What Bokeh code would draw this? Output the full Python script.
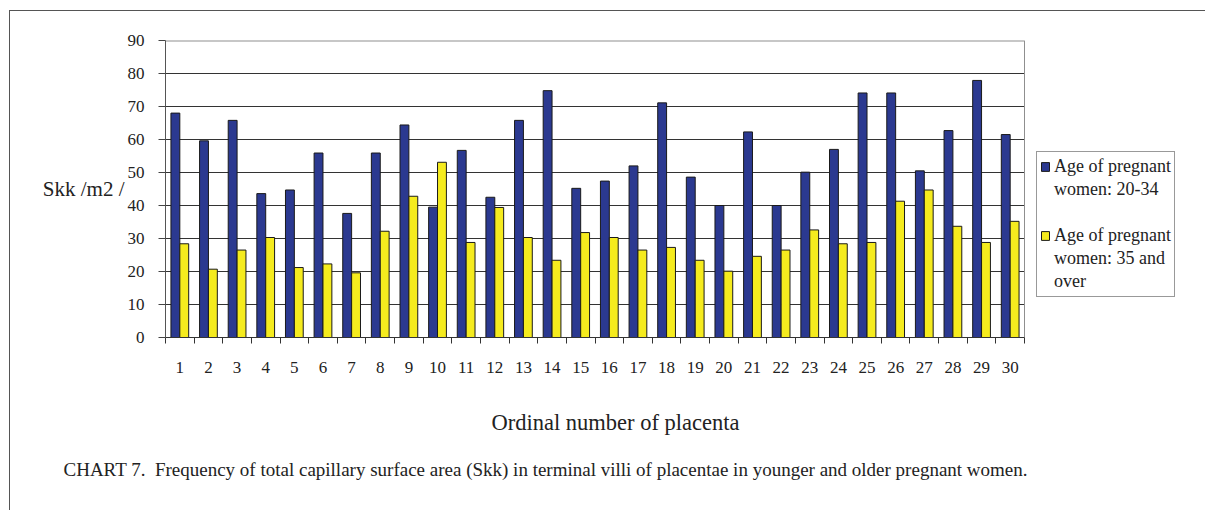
from bokeh.plotting import figure
from bokeh.models import Range1d, FixedTicker, Legend, LegendItem, Title
from bokeh.embed import file_html
from bokeh.resources import INLINE

# ---- data ----
placenta = [str(i) for i in range(1, 31)]
younger = [68.0, 59.6, 65.8, 43.6, 44.7, 55.9, 37.6, 55.9, 64.4, 39.5,
           56.7, 42.5, 65.8, 74.8, 45.2, 47.4, 52.0, 71.1, 48.6, 40.0,
           62.3, 40.0, 50.1, 57.0, 74.1, 74.1, 50.5, 62.7, 77.9, 61.5]
older = [28.4, 20.7, 26.5, 30.3, 21.2, 22.3, 19.6, 32.2, 42.8, 53.1,
         28.8, 39.4, 30.3, 23.4, 31.8, 30.3, 26.5, 27.3, 23.4, 20.1,
         24.6, 26.5, 32.6, 28.4, 28.8, 41.3, 44.7, 33.7, 28.8, 35.2]
y_ticks = [0, 10, 20, 30, 40, 50, 60, 70, 80, 90]
legend_lines_1 = ["Age of pregnant", "women: 20-34"]
legend_lines_2 = ["Age of pregnant", "women: 35 and", "over"]
y_label = "Skk /m2 /"
x_label = "Ordinal number of placenta"
caption = ("CHART 7. \u00a0Frequency of total capillary surface area (Skk) in terminal villi "
           "of placentae in younger and older pregnant women.")

FONT = "Liberation Serif"
BLUE = "#2B3990"
YELLOW = "#F5EB1E"

n = len(placenta)
pos = list(range(1, n + 1))
x_lo, x_hi = 0.5, n + 0.5
x_blue = [v - 0.155 for v in pos]
x_yel = [v + 0.155 for v in pos]

W, H = 1196, 500
LEFT, TOP, BOTTOM = 155, 29, 174
plot_px = 859  # width of the bar area in pixels
frame_w = W - LEFT
x_end = x_lo + n * frame_w / plot_px

p = figure(width=W, height=H, output_backend="svg", toolbar_location=None,
           x_range=Range1d(x_lo, x_end), y_range=Range1d(y_ticks[0], y_ticks[-1]),
           min_border_left=LEFT, min_border_top=TOP, min_border_right=0,
           min_border_bottom=BOTTOM)
p.styles = {"margin-left": "9px", "margin-top": "10px",
            "border-left": "1px solid #555555", "border-top": "1px solid #555555"}

p.outline_line_color = None
p.background_fill_color = "white"
p.border_fill_color = "white"
p.xgrid.grid_line_color = None
p.ygrid.grid_line_color = None

# gridlines and plot-area border limited to the bar area
inner = y_ticks[1:-1]
p.segment(x0=[x_lo] * len(inner), x1=[x_hi] * len(inner), y0=inner, y1=inner,
          line_color="#333333", line_width=1)
p.segment(x0=[x_lo], x1=[x_hi], y0=[y_ticks[-1]], y1=[y_ticks[-1]],
          line_color="#8f8f8f", line_width=2)
p.segment(x0=[x_hi], x1=[x_hi], y0=[y_ticks[0]], y1=[y_ticks[-1]],
          line_color="#8f8f8f", line_width=1)

r1 = p.vbar(x=x_blue, top=younger, width=0.31, fill_color=BLUE,
            line_color="#1a1a1a", line_width=1)
r2 = p.vbar(x=x_yel, top=older, width=0.31, fill_color=YELLOW,
            line_color="#1a1a1a", line_width=1)
blank = p.vbar(x=[], top=[], width=0.31, fill_alpha=0, line_alpha=0)

# x axis
xa = p.xaxis[0]
xa.bounds = (x_lo, x_hi)
xa.ticker = FixedTicker(ticks=pos, minor_ticks=[v - 0.5 for v in pos] + [x_hi])
xa.major_label_overrides = {v: lab for v, lab in zip(pos, placenta)}
xa.major_tick_out = 0
xa.major_tick_in = 0
xa.minor_tick_out = 6
xa.minor_tick_in = 0
xa.minor_tick_line_color = "#333333"
xa.axis_line_color = "#333333"
xa.major_label_text_font = FONT
xa.major_label_text_font_size = "17px"
xa.major_label_text_color = "#222222"
xa.major_label_standoff = 18

# y axis
ya = p.yaxis[0]
ya.ticker = FixedTicker(ticks=y_ticks)
ya.major_tick_out = 7
ya.major_tick_in = 0
ya.minor_tick_line_color = None
ya.major_tick_line_color = "#444444"
ya.axis_line_color = "#555555"
ya.major_label_text_font = FONT
ya.major_label_text_font_size = "17px"
ya.major_label_text_color = "#222222"
ya.major_label_standoff = 14
ya.axis_label = y_label
ya.axis_label_orientation = "horizontal"
ya.axis_label_text_font = FONT
ya.axis_label_text_font_size = "21px"
ya.axis_label_text_font_style = "normal"
ya.axis_label_text_color = "#222222"
ya.axis_label_standoff = 0

items = [LegendItem(label=legend_lines_1[0], renderers=[r1])]
items += [LegendItem(label=t, renderers=[blank]) for t in legend_lines_1[1:]]
items += [LegendItem(label=" ", renderers=[blank])]
items += [LegendItem(label=legend_lines_2[0], renderers=[r2])]
items += [LegendItem(label=t, renderers=[blank]) for t in legend_lines_2[1:]]

legend = Legend(items=items, location=(871, 40))
legend.label_text_font = FONT
legend.label_text_font_size = "18px"
legend.label_text_color = "#222222"
legend.label_height = 23
legend.glyph_width = 10
legend.glyph_height = 11
legend.label_standoff = 4
legend.padding = 3
legend.spacing = 0
legend.margin = 0
legend.border_line_color = "#333333"
legend.border_line_width = 1
legend.background_fill_alpha = 1
p.add_layout(legend, "center")

# x-axis title, centred under the bar area only
xt = Title(text=x_label, align="left", offset=326, standoff=65,
           text_font=FONT, text_font_size="22.5px", text_color="#222222",
           text_font_style="normal")
p.add_layout(xt, "below")

cap = Title(text=caption, align="left", offset=-102, standoff=-21,
            text_font=FONT, text_font_size="19px", text_color="#222222",
            text_font_style="normal")
p.add_layout(cap, "below")

open("out.html", "w").write(file_html(p, INLINE))
